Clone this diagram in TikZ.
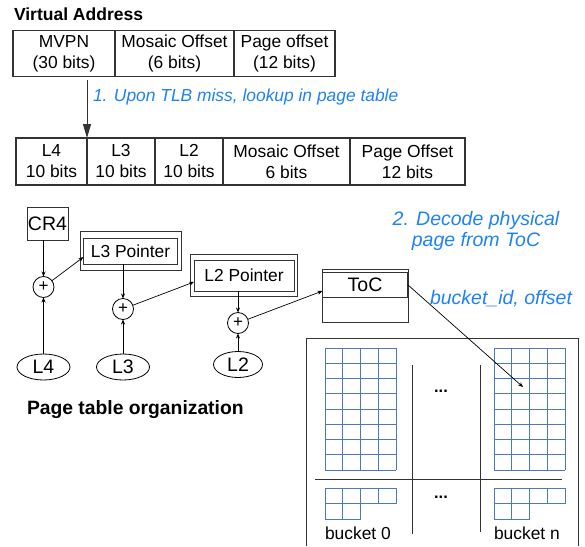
\documentclass[tikz,border=0pt]{standalone}
\usepackage{fontspec}
\setmainfont{Liberation Sans}
\usetikzlibrary{arrows.meta,shapes.geometric}
\definecolor{linegray}{HTML}{333333}
\definecolor{note}{RGB}{30,130,245}
\definecolor{gridc}{RGB}{75,120,190}
\begin{document}
\begin{tikzpicture}[x=1pt,y=-1pt,
  every node/.style={font=\fontsize{17.4}{21}\selectfont, inner sep=0pt, outer sep=0pt},
  cell/.style={draw=linegray, line width=1.1pt, align=center},
  box/.style={draw=linegray, line width=1pt, align=center},
  bigtext/.style={font=\fontsize{19.5}{21}\selectfont},
  plus/.style={draw=black, circle, line width=0.8pt, minimum size=21pt, font=\fontsize{17}{17}\selectfont},
  oval/.style={draw=black, ellipse, line width=0.8pt, minimum height=26pt, font=\fontsize{19.5}{21}\selectfont},
  arr/.style={draw=black, line width=0.7pt, -{Stealth[length=5pt,width=4pt]}},
  bigarr/.style={draw=linegray, line width=1pt, -{Triangle[length=14pt,width=8pt]}},
  notetext/.style={text=note, font=\fontsize{17.4}{20.5}\selectfont\itshape},
  bignote/.style={text=note, font=\fontsize{19.5}{20.5}\selectfont\itshape},
  title/.style={font=\fontsize{17.5}{20}\selectfont\bfseries},
  bigtitle/.style={font=\fontsize{19.3}{20}\selectfont\bfseries},
  gridline/.style={draw=gridc, line width=0.9pt},
  sep/.style={draw=linegray, line width=1pt}
]
\useasboundingbox (0,0) rectangle (585,546);

% Virtual address
\node[title, anchor=west] (vatitle) at (14,14) {Virtual Address};
\node[cell, minimum width=102pt, minimum height=46pt] (mvpn) at (64,53.5) {MVPN\\(30 bits)};
\node[cell, minimum width=119pt, minimum height=46pt] (mos1) at (174.5,53.5) {Mosaic Offset\\(6 bits)};
\node[cell, minimum width=101pt, minimum height=46pt] (pg1) at (284.5,53.5) {Page offset\\(12 bits)};

% Split address
\node[cell, minimum width=71pt, minimum height=47pt] (l4c) at (51.5,161.5) {L4\\10 bits};
\node[cell, minimum width=68pt, minimum height=47pt] (l3c) at (121,161.5) {L3\\10 bits};
\node[cell, minimum width=68pt, minimum height=47pt] (l2c) at (189,161.5) {L2\\10 bits};
\node[cell, minimum width=127pt, minimum height=47pt] (mos2) at (286.5,161.5) {Mosaic Offset\\6 bits};
\node[cell, minimum width=115pt, minimum height=47pt] (pg2) at (407.5,161.5) {Page Offset\\12 bits};

\coordinate (a0) at (87,80);
\draw[bigarr] (a0) -- (l4c.north east);
\node[notetext, anchor=west] (note1) at (93,97) {1. Upon TLB miss, lookup in page table};

% Page table walk
\node[box, bigtext, minimum width=41pt, minimum height=33pt] (cr4) at (47.5,223.5) {CR4};
\node[plus] (p1) at (43.5,287) {+};
\node[oval, minimum width=53pt] (l4e) at (43.5,367) {L4};

\node[box, minimum width=101pt, minimum height=39pt] (l3o) at (130.5,250.5) {};
\node[box, minimum width=94pt, minimum height=26pt] (l3p) at (130.5,251) {L3 Pointer};
\node[plus] (p2) at (123,309) {+};
\node[oval, minimum width=53pt] (l3e) at (123,367) {L3};

\node[box, minimum width=107pt, minimum height=42pt] (l2o) at (243.5,275) {};
\node[box, minimum width=100pt, minimum height=31pt] (l2p) at (244,275.5) {L2 Pointer};
\node[plus] (p3) at (238,323) {+};
\node[oval, minimum width=49pt] (l2e) at (238,364.5) {L2};

\node[box, minimum width=86pt, minimum height=53pt] (tocbox) at (365,295.5) {};
\node[box, bigtext, minimum width=85pt, minimum height=25pt] (toc) at (365,284.5) {ToC};

\draw[arr] (cr4.south -| p1) -- (p1.north);
\draw[arr] (l4e.north) -- (p1.south);
\draw[arr] (p1) -- ([yshift=-6pt]l3p.west);
\draw[arr] (l3p.south -| p2) -- (p2.north);
\draw[arr] (l3e.north) -- (p2.south);
\draw[arr] (p2) -- ([yshift=-6.5pt]l2p.west);
\draw[arr] (l2p.south -| p3) -- (p3.north);
\draw[arr] (l2e.north) -- (p3.south);
\draw[arr] (p3) -- ([yshift=-6.5pt]toc.west);

\node[bigtitle, anchor=west] (pto) at (27,410) {Page table organization};

\node[bignote, align=center] (note2) at (476,231) {2. Decode physical\\page from ToC};
\node[bignote, anchor=west] (note3) at (430,299) {bucket\_id, offset};

% Physical memory
\draw[sep] (306,546) -- (306,338) -- (578,338) -- (578,546);
\draw[sep] (315,479) -- (562,479);
\draw[sep] (412.5,365) -- (412.5,534);
\draw[sep] (480,365) -- (480,532);

\foreach \gx in {325,494} {
  \foreach \i in {0,...,4} \draw[gridline] (\gx+\i*17.75,348) -- (\gx+\i*17.75,470);
  \foreach \j in {0,...,8} \draw[gridline] (\gx,348+\j*15.25) -- (\gx+71,348+\j*15.25);
  \draw[gridline] (\gx,488) -- (\gx+71,488);
  \draw[gridline] (\gx,503.5) -- (\gx+71,503.5);
  \draw[gridline] (\gx,519) -- (\gx+35.5,519);
  \foreach \i in {0,1,2} \draw[gridline] (\gx+\i*17.75,488) -- (\gx+\i*17.75,519);
  \foreach \i in {3,4} \draw[gridline] (\gx+\i*17.75,488) -- (\gx+\i*17.75,503.5);
}
\coordinate (target) at (523,387);
\draw[arr] (toc.east) -- (target);

\node[font=\fontsize{16.5}{20}\selectfont\bfseries] (dots1) at (441,391) {...};
\node[font=\fontsize{16.5}{20}\selectfont\bfseries] (dots2) at (441,497) {...};
\node[anchor=west] (b0) at (325,533) {bucket 0};
\node[anchor=west] (bn) at (494,533) {bucket n};
\end{tikzpicture}
\end{document}
